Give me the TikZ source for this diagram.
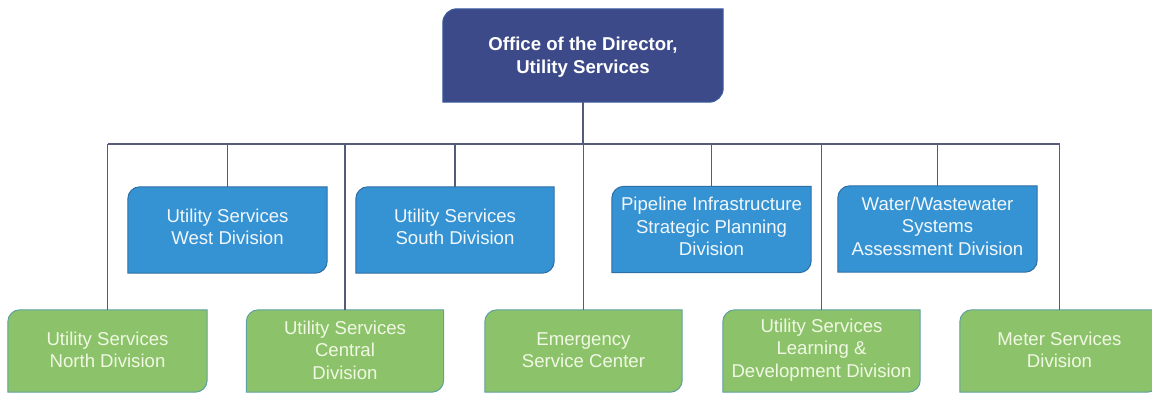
\documentclass[tikz,border=0pt]{standalone}
\usepackage{fontspec}
\setmainfont{Liberation Sans}
\usetikzlibrary{backgrounds}
\definecolor{navyF}{HTML}{3D4A8A}
\definecolor{navyD}{HTML}{3A5BA0}
\definecolor{blueF}{HTML}{3593D3}
\definecolor{blueD}{HTML}{2E6FA6}
\definecolor{greenF}{HTML}{8CC36A}
\definecolor{greenD}{HTML}{5E9FA0}
\definecolor{lineC}{HTML}{565B7A}
\definecolor{blueT}{HTML}{F2F7FB}
\definecolor{greenT}{HTML}{F0F8E4}
\newcommand{\dbox}[4]{%
  \path[fill=#2,draw=#3,line width=1pt]
    (#1.south west) -- ([yshift=-#4]#1.north west)
    arc[start angle=180,end angle=90,radius=#4]
    -- (#1.north east) -- ([yshift=#4]#1.south east)
    arc[start angle=0,end angle=-90,radius=#4] -- cycle;}
\tikzset{
  x=1pt,y=1pt,
  lbl/.style={align=center,inner sep=0pt,font=\fontsize{18.6}{22.5}\selectfont},
  topbox/.style={inner sep=0pt,minimum width=280,minimum height=93,
    label={[lbl,text=white,font=\bfseries\fontsize{18.6}{23}\selectfont,yshift=-2pt]center:#1}},
  bluebox/.style 2 args={inner sep=0pt,minimum width=#1,minimum height=86,
    label={[lbl,text=blueT,yshift=3pt]center:#2}},
  greenbox/.style 2 args={inner sep=0pt,minimum width=#1,minimum height=82,
    label={[lbl,text=greenT,yshift=1pt]center:#2}},
  conn/.style={draw=lineC,line width=1.3pt}
}
\begin{document}
\begin{tikzpicture}
\useasboundingbox (0,0) rectangle (1152,-394);
\node[topbox={Office of the Director,\\Utility Services}] (top) at (583,-55.5) {};
\node[bluebox={199}{Utility Services\\West Division}] (west) at (227.5,-230) {};
\node[bluebox={198}{Utility Services\\South Division}] (south) at (455,-230) {};
\node[bluebox={199}{Pipeline Infrastructure\\Strategic Planning\\Division}] (pipe) at (711.5,-229.5) {};
\node[bluebox={199}{Water/Wastewater\\Systems\\Assessment Division}] (water) at (937.5,-229) {};
\node[greenbox={199}{Utility Services\\North Division}] (north) at (107.5,-351) {};
\node[greenbox={197}{Utility Services\\Central\\Division}] (central) at (345,-351) {};
\node[greenbox={197}{Emergency\\Service Center}] (emerg) at (583.5,-351) {};
\node[greenbox={197}{Utility Services\\Learning \&\\Development Division}] (ld) at (821.5,-351) {};
\node[greenbox={199}{Meter Services\\Division}] (meter) at (1059.5,-351) {};
\coordinate (bus) at (0,-144);
\begin{scope}[on background layer]
  \dbox{top}{navyF}{navyD}{14pt}
  \foreach \n in {west,south,pipe,water}{\dbox{\n}{blueF}{blueD}{12pt}}
  \foreach \n in {north,central,emerg,ld,meter}{\dbox{\n}{greenF}{greenD}{12pt}}
  \draw[conn] (top.south) -- (top.south |- bus);
  \draw[conn] (north.north |- bus) -- (meter.north |- bus);
  \foreach \n in {west,south,pipe,water,north,central,emerg,ld,meter}{
    \draw[conn] (\n.north |- bus) -- (\n.north);}
\end{scope}
\end{tikzpicture}
\end{document}
